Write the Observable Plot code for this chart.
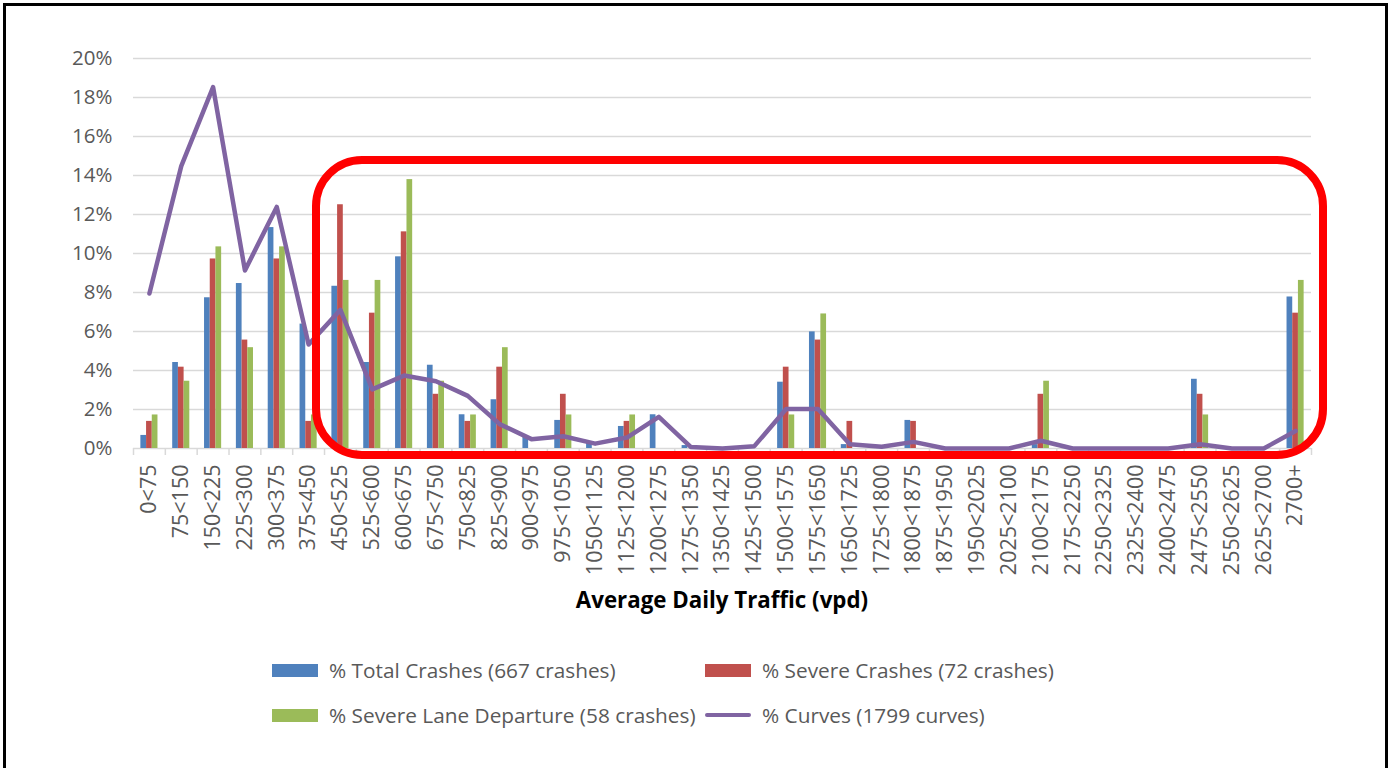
<!DOCTYPE html>
<html>
<head>
<meta charset="utf-8">
<script src="https://cdn.jsdelivr.net/npm/d3@7"></script>
<script src="https://cdn.jsdelivr.net/npm/@observablehq/plot@0.6"></script>
<style>
  body { margin: 0; background: #fff; font-family: "Open Sans", sans-serif; }
  #frame { position: absolute; left: 3px; top: 3px; width: 1385px; height: 800px; border: 3px solid #000; box-sizing: border-box; }
  #chart { position: absolute; left: 0; top: 0; }
  #title { position: absolute; left: 133px; width: 1178px; top: 584px; text-align: center; font-weight: 700; font-size: 22.3px; color: #000; }
  .leg { position: absolute; height: 28px; font-size: 20.8px; color: #595959; white-space: nowrap; display: flex; align-items: center; }
  .sw { width: 46px; height: 13px; margin-right: 11px; }
  .ln { width: 46px; height: 4px; margin-right: 11px; border-radius: 2px; }
  #box { position: absolute; left: 312px; top: 156px; width: 1015px; height: 303px; border: 8px solid #FF0000; border-radius: 50px; box-sizing: border-box; }
</style>
</head>
<body>
<div id="frame"></div>
<div id="chart"></div>
<div id="title"></div>
<div id="legend"></div>
<div id="box"></div>
<script>
const categories = ["0<75","75<150","150<225","225<300","300<375","375<450","450<525","525<600","600<675","675<750",
  "750<825","825<900","900<975","975<1050","1050<1125","1125<1200","1200<1275","1275<1350","1350<1425","1425<1500",
  "1500<1575","1575<1650","1650<1725","1725<1800","1800<1875","1875<1950","1950<2025","2025<2100","2100<2175","2175<2250",
  "2250<2325","2325<2400","2400<2475","2475<2550","2550<2625","2625<2700","2700+"];

// % Total Crashes (667 crashes)
const totalCrashes = [0.67,4.41,7.73,8.46,11.33,6.38,8.32,4.41,9.83,4.27,
  1.73,2.5,0.6,1.44,0.3,1.13,1.73,0.15,0,0,
  3.4,5.98,0.2,0,1.44,0,0,0,0.2,0,
  0,0,0,3.55,0,0,7.77];
// % Severe Crashes (72 crashes)
const severeCrashes = [1.39,4.17,9.72,5.56,9.72,1.39,12.5,6.94,11.11,2.78,
  1.39,4.17,0,2.78,0,1.39,0,0,0,0,
  4.17,5.56,1.39,0,1.39,0,0,0,2.78,0,
  0,0,0,2.78,0,0,6.94];
// % Severe Lane Departure (58 crashes)
const laneDeparture = [1.72,3.45,10.34,5.17,10.34,1.72,8.62,8.62,13.79,3.45,
  1.72,5.17,0,1.72,0,1.72,0,0,0,0,
  1.72,6.9,0,0,0,0,0,0,3.45,0,
  0,0,0,1.72,0,0,8.62];
// % Curves (1799 curves)
const curves = [7.95,14.48,18.53,9.13,12.39,5.33,7.11,3.03,3.74,3.45,
  2.7,1.25,0.48,0.63,0.25,0.56,1.62,0.08,0,0.12,
  2.03,2.03,0.22,0.09,0.34,0,0,0,0.4,0,
  0,0,0,0.22,0,0,0.9];

const yTicks = [0,2,4,6,8,10,12,14,16,18,20];
const seriesNames = ["% Total Crashes (667 crashes)","% Severe Crashes (72 crashes)","% Severe Lane Departure (58 crashes)","% Curves (1799 curves)"];
const seriesColors = ["#4F81BD","#C0504D","#9BBB59","#8064A2"];
const xTitle = "Average Daily Traffic (vpd)";

const rows = categories.map((c, i) => ({cat: c, total: totalCrashes[i], severe: severeCrashes[i], lane: laneDeparture[i], curve: curves[i]}));

const W = 1393, ML = 133, MR = 82;
const bw = (W - ML - MR) / categories.length;
const barW = 5.7;
const inset = (bw - barW) / 2;
const grid = "#D9D9D9";

const chart = Plot.plot({
  width: W, height: 640,
  marginLeft: ML, marginRight: MR, marginTop: 58, marginBottom: 192,
  style: {fontFamily: "Open Sans", fontSize: "20px", background: "transparent", overflow: "visible"},
  x: {type: "band", domain: categories, padding: 0},
  y: {domain: [0, 20]},
  marks: [
    Plot.ruleY(yTicks, {stroke: grid, strokeWidth: 1.5}),
    Plot.ruleX(categories, {x: d => d, y1: 0, y2: 0, dx: -bw / 2, insetBottom: -7, stroke: grid, strokeWidth: 1.5}),
    Plot.ruleX([categories[categories.length - 1]], {x: d => d, y1: 0, y2: 0, dx: bw / 2, insetBottom: -7, stroke: grid, strokeWidth: 1.5}),
    Plot.barY(rows, {x: "cat", y: "total", fill: seriesColors[0], insetLeft: inset, insetRight: inset, dx: -barW}),
    Plot.barY(rows, {x: "cat", y: "severe", fill: seriesColors[1], insetLeft: inset, insetRight: inset}),
    Plot.barY(rows, {x: "cat", y: "lane", fill: seriesColors[2], insetLeft: inset, insetRight: inset, dx: barW}),
    Plot.line(rows, {x: "cat", y: "curve", stroke: seriesColors[3], strokeWidth: 4.5, strokeLinejoin: "round"}),
    Plot.axisY({ticks: yTicks, tickFormat: d => d + "%", tickSize: 0, tickPadding: 21, color: "#595959", fontSize: 20.5, label: null}),
    Plot.axisX({tickRotate: -90, tickSize: 0, tickPadding: 16, color: "#595959", fontSize: 21.5, label: null})
  ]
});
document.getElementById("chart").appendChild(chart);
document.getElementById("title").textContent = xTitle;

const legendPos = [[272, 656], [705, 656], [272, 701], [705, 701]];
const legend = document.getElementById("legend");
seriesNames.forEach((name, i) => {
  const item = document.createElement("div");
  item.className = "leg";
  item.style.left = legendPos[i][0] + "px";
  item.style.top = legendPos[i][1] + "px";
  const sw = document.createElement("span");
  sw.className = i === 3 ? "ln" : "sw";
  sw.style.background = seriesColors[i];
  const tx = document.createElement("span");
  tx.textContent = name;
  item.appendChild(sw);
  item.appendChild(tx);
  legend.appendChild(item);
});
</script>
</body>
</html>
